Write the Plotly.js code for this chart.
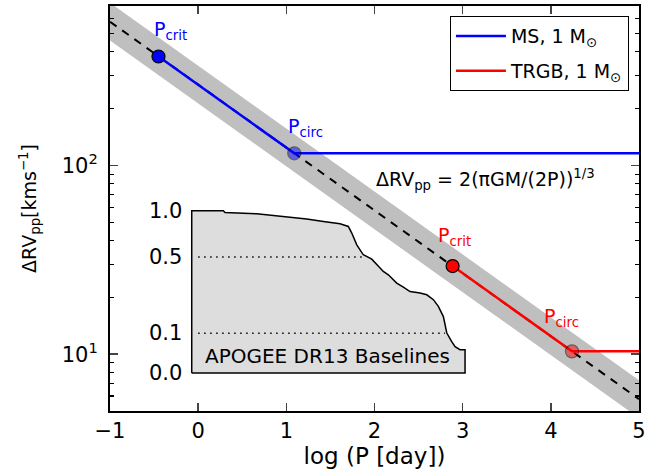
<!DOCTYPE html>
<html>
<head>
<meta charset="utf-8">
<script src="https://cdn.plot.ly/plotly-3.0.1.min.js"></script>
<style>
  html, body { margin: 0; padding: 0; background: #fff; }
  #chart { width: 647px; height: 474px; }
</style>
</head>
<body>
<div id="chart"></div>
<script>
// ---------- data ----------
// theoretical relation (straight on these axes): end points
const theoryLogP = [-1, 5];
const theoryRV = [578, 5.78];
// grey band (mass range) edges at the same end points
const bandUpperRV = [728, 7.28];
const bandLowerRV = [459, 4.59];

// MS, 1 Msun : [P_crit, P_circ, right edge]
const msLogP = [-0.45, 1.09, 5];
const msRV = [378, 116, 116];
// TRGB, 1 Msun
const trgbLogP = [2.886, 4.24, 5];
const trgbRV = [29.3, 10.35, 10.35];

// inset: cumulative fraction of APOGEE DR13 baselines
const baseLogP = [-0.073, 0.285, 0.305, 0.664, 1.042, 1.231, 1.420, 1.496, 1.609, 1.703,
  1.742, 1.799, 1.873, 1.969, 2.026, 2.100, 2.157, 2.252, 2.327, 2.403, 2.517, 2.593,
  2.668, 2.724, 2.781, 2.820, 2.876, 2.914, 2.970, 3.027];
const baseFrac = [1.0, 1.0, 0.976, 0.958, 0.914, 0.888, 0.858, 0.846, 0.830, 0.798,
  0.724, 0.606, 0.518, 0.483, 0.440, 0.393, 0.371, 0.320, 0.297, 0.273, 0.265, 0.256,
  0.232, 0.201, 0.159, 0.101, 0.075, 0.061, 0.053, 0.053];
const insetTickFrac = [1.0, 0.5, 0.1, 0.0];
const insetTickText = ['1.0', '0.5', '0.1', '0.0'];
const guideFrac = [0.5, 0.1];
const guideEndLogP = [1.87, 2.80];

const yTickVals = [10, 100];
const yTickText = ['10<sup>1</sup>', '10<sup>2</sup>'];
const yMinorVals = [5, 6, 7, 8, 9, 20, 30, 40, 50, 60, 70, 80, 90, 200, 300, 400, 500, 600, 700];

// ---------- inset placement inside the main axes ----------
const INSET_Y0 = 7.94, INSET_YSPAN = 49.6;
const insetY = f => INSET_Y0 + INSET_YSPAN * f;
const insetX0 = baseLogP[0], insetX1 = baseLogP[baseLogP.length - 1];

const FONT = 'DejaVu Sans, sans-serif';
const traces = [];

// grey band
traces.push({
  x: [theoryLogP[0], theoryLogP[1], theoryLogP[1], theoryLogP[0]],
  y: [bandUpperRV[0], bandUpperRV[1], bandLowerRV[1], bandLowerRV[0]],
  mode: 'lines', fill: 'toself', fillcolor: '#bfbfbf',
  line: { width: 0 }, hoverinfo: 'skip', showlegend: false
});
// dashed theory line
traces.push({
  x: theoryLogP, y: theoryRV, mode: 'lines',
  line: { color: 'black', width: 2, dash: '8px,7px' },
  showlegend: false
});
// inset polygon
traces.push({
  x: [insetX0].concat(baseLogP, [insetX1, insetX0]),
  y: [insetY(0)].concat(baseFrac.map(insetY), [insetY(0), insetY(0)]),
  mode: 'lines', fill: 'toself', fillcolor: '#dddddd',
  line: { color: 'black', width: 1.5 }, showlegend: false
});
// dotted guides
guideFrac.forEach((f, i) => {
  traces.push({
    x: [0.0, guideEndLogP[i]], y: [insetY(f), insetY(f)], mode: 'lines',
    line: { color: 'black', width: 1.5, dash: '1.5px,4.5px' }, showlegend: false
  });
});
// MS and TRGB lines
traces.push({
  x: msLogP, y: msRV, mode: 'lines', name: 'MS, 1 M<sub>⊙</sub>',
  line: { color: '#0000ff', width: 2.5 }, legendgroup: 'a'
});
traces.push({
  x: trgbLogP, y: trgbRV, mode: 'lines', name: 'TRGB, 1 M<sub>⊙</sub>',
  line: { color: '#ff0000', width: 2.5 }, legendgroup: 'b'
});
// P_crit markers
traces.push({
  x: [msLogP[0], trgbLogP[0]], y: [msRV[0], trgbRV[0]], mode: 'markers',
  marker: { size: 13, color: ['#0000ff', '#ff0000'], line: { color: 'black', width: 1.2 } },
  showlegend: false
});
// P_circ markers (translucent)
traces.push({
  x: [msLogP[1], trgbLogP[1]], y: [msRV[1], trgbRV[1]], mode: 'markers',
  marker: { size: 13, color: ['#0000ff', '#ff0000'], opacity: 0.5, line: { color: 'black', width: 1.2 } },
  showlegend: false
});

const annotations = [
  { x: -0.31, y: Math.log10(518), text: 'P<sub>crit</sub>', font: { color: '#0000ff', size: 19 } },
  { x: 1.217, y: Math.log10(158), text: 'P<sub>circ</sub>', font: { color: '#0000ff', size: 19 } },
  { x: 2.906, y: Math.log10(41.9), text: 'P<sub>crit</sub>', font: { color: '#ff0000', size: 19 } },
  { x: 4.119, y: Math.log10(15.6), text: 'P<sub>circ</sub>', font: { color: '#ff0000', size: 19 } },
  { x: 3.263, y: Math.log10(84.6), text: 'ΔRV<sub>pp</sub> = 2(πGM/(2P))<sup>1/3</sup>', font: { color: 'black', size: 19 } },
  { x: 1.472, y: Math.log10(insetY(0.0375)), text: 'APOGEE DR13 Baselines', font: { color: 'black', size: 20 } }
];
insetTickFrac.forEach((f, i) => {
  annotations.push({
    x: insetX0, y: Math.log10(insetY(f)), xanchor: 'right', xshift: -8,
    text: insetTickText[i], font: { color: 'black', size: 21 }
  });
});
annotations.forEach(a => { a.showarrow = false; a.xref = 'x'; a.yref = 'y'; if (!a.xanchor) a.xanchor = 'center'; a.yanchor = 'middle'; });

const layout = {
  width: 647, height: 474,
  margin: { l: 110, r: 8, t: 6, b: 63 },
  paper_bgcolor: 'white', plot_bgcolor: 'white',
  font: { family: FONT, color: 'black', size: 20 },
  showlegend: true,
  legend: {
    x: 0.981, y: 0.975, xanchor: 'right', yanchor: 'top',
    bgcolor: 'white', bordercolor: 'black', borderwidth: 1,
    font: { size: 19 }, traceorder: 'grouped', tracegroupgap: 7, itemwidth: 50
  },
  xaxis: {
    range: [-1, 5], dtick: 1, tick0: 0, ticks: 'inside', ticklen: 8, tickwidth: 1.5,
    mirror: 'allticks', showline: true, linewidth: 2, linecolor: 'black',
    showgrid: false, zeroline: false, tickfont: { size: 21 },
    title: { text: 'log (P [day])', font: { size: 23 }, standoff: 6 }
  },
  yaxis: {
    type: 'log', range: [Math.log10(5), Math.log10(700)],
    tickvals: yTickVals, ticktext: yTickText,
    ticks: 'inside', ticklen: 8, tickwidth: 1.5, ticklabelstandoff: 6,
    minor: { tickvals: yMinorVals, ticks: 'inside', ticklen: 4, tickwidth: 1.2, tickcolor: 'black', showgrid: false },
    mirror: 'allticks', showline: true, linewidth: 2, linecolor: 'black',
    showgrid: false, zeroline: false, tickfont: { size: 21 },
    title: { text: 'ΔRV<sub>pp</sub>[kms<sup>−1</sup>]', font: { size: 19 }, standoff: 20 }
  },
  annotations: annotations
};

Plotly.newPlot('chart', traces, layout, { staticPlot: true, displayModeBar: false });
</script>
</body>
</html>
